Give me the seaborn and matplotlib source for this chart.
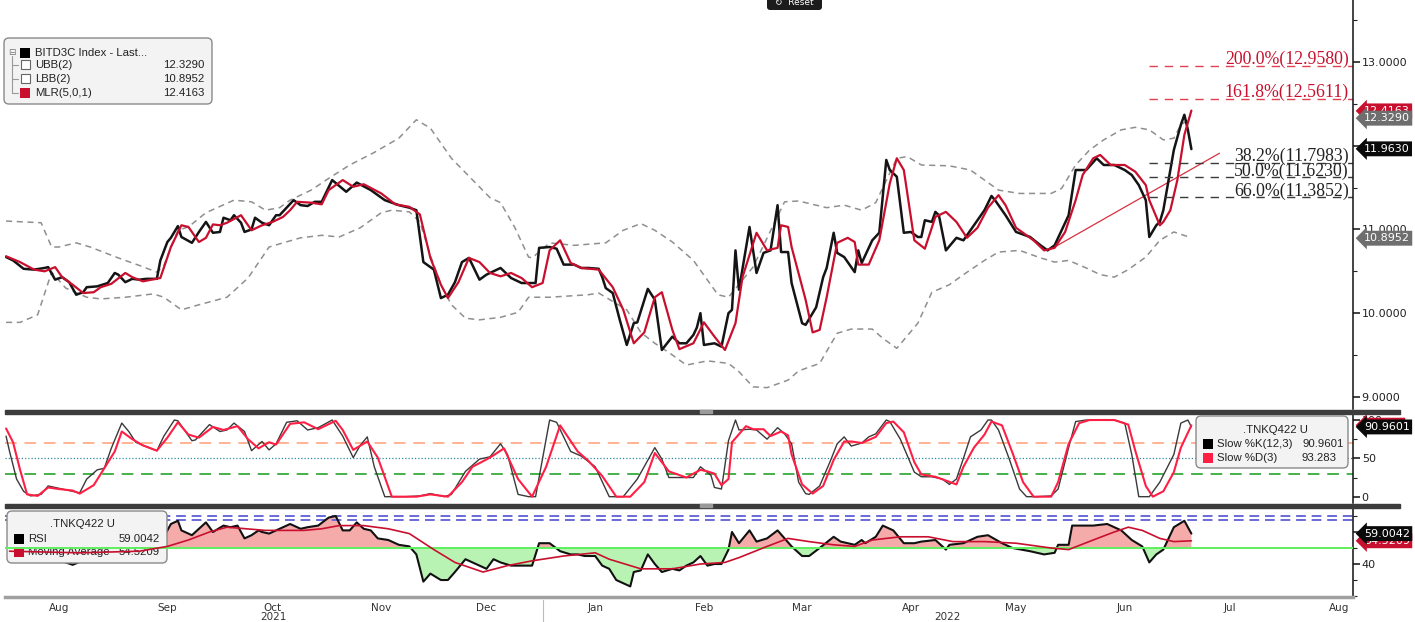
import matplotlib
matplotlib.use("Agg")
import numpy as np
import pandas as pd
import seaborn as sns
import matplotlib.dates as mdates
from matplotlib import pyplot as plt
from matplotlib.patches import FancyBboxPatch, Rectangle
from matplotlib.lines import Line2D
from matplotlib.ticker import FormatStrFormatter
from matplotlib.transforms import Affine2D

W, H = 1415, 622
START = pd.Timestamp("2021-08-01")   # day offsets below count from here

# ---- BITD3C Index (day offset, level) ----
price_day = [0, 2, 5, 8, 11, 12, 14, 16, 18, 20, 22, 23, 26, 29, 31, 32, 34, 36, 38, 40,
             43, 44, 46, 47, 49, 50, 53, 55, 57, 59, 61, 62, 64, 65, 67, 68, 70, 71, 73, 75,
             77, 78, 80, 82, 84, 86, 88, 90, 93, 97, 100, 104, 108, 112, 115, 117, 119, 122, 124, 126,
             128, 130, 132, 135, 137, 141, 144, 147, 151, 152, 155, 157, 159, 162, 164, 166, 169, 170, 171, 173,
             175, 177, 179, 180, 183, 185, 187, 190, 192, 194, 196, 197, 198, 199, 202, 204, 206, 207, 208, 209,
             212, 214, 216, 218, 220, 221, 223, 224, 227, 228, 231, 233, 234, 236, 237, 239, 242, 243, 244, 247,
             249, 251, 252, 254, 256, 258, 260, 261, 262, 264, 265, 266, 268, 271, 273, 276, 279, 281, 282, 285,
             288, 292, 295, 297, 299, 301, 303, 305, 308, 311, 313, 316, 319, 321, 323, 325, 326, 328, 329, 330,
             332, 333, 335, 336, 337, 338]
price = [10.67, 10.63, 10.53, 10.52, 10.54, 10.55, 10.40, 10.43, 10.37, 10.22, 10.25, 10.31, 10.32, 10.36, 10.48, 10.46, 10.37, 10.41, 10.40, 10.41,
         10.41, 10.63, 10.85, 10.90, 11.04, 10.91, 10.84, 10.97, 11.09, 10.96, 10.97, 11.14, 11.11, 11.17, 11.08, 10.97, 11.00, 11.14, 11.08, 11.05,
         11.17, 11.17, 11.26, 11.35, 11.29, 11.28, 11.33, 11.33, 11.59, 11.45, 11.56, 11.47, 11.35, 11.29, 11.26, 11.23, 10.61, 10.52, 10.18, 10.22,
         10.37, 10.61, 10.66, 10.40, 10.46, 10.54, 10.42, 10.36, 10.36, 10.78, 10.79, 10.77, 10.58, 10.58, 10.54, 10.54, 10.53, 10.43, 10.30, 10.24,
         9.92, 9.62, 9.88, 9.89, 10.29, 10.16, 9.56, 9.72, 9.64, 9.64, 9.74, 9.83, 10.00, 9.62, 9.64, 9.60, 10.00, 10.04, 10.75, 10.28,
         11.03, 10.48, 10.72, 10.75, 11.29, 10.73, 10.73, 10.36, 9.88, 9.86, 10.07, 10.43, 10.54, 10.96, 10.72, 10.67, 10.49, 10.75, 10.60, 10.87,
         10.96, 11.83, 11.71, 11.63, 10.96, 10.97, 10.91, 10.91, 11.11, 11.09, 11.21, 11.17, 10.75, 10.90, 10.87, 11.05, 11.23, 11.40, 11.35, 11.17,
         10.97, 10.91, 10.81, 10.75, 10.81, 10.99, 11.17, 11.71, 11.71, 11.85, 11.77, 11.77, 11.71, 11.65, 11.53, 11.35, 10.91, 11.05, 11.09, 11.23,
         11.71, 11.95, 12.25, 12.37, 12.19, 11.96]

mlr_day = [0, 4, 8, 11, 14, 16, 19, 22, 25, 27, 30, 34, 36, 39, 44, 47, 50, 52, 55, 57,
           59, 61, 63, 67, 70, 73, 76, 79, 81, 83, 87, 90, 92, 96, 99, 102, 107, 111, 115, 118,
           121, 124, 126, 129, 132, 135, 138, 141, 144, 147, 150, 153, 155, 158, 161, 164, 169, 173, 176, 179,
           182, 185, 187, 190, 192, 196, 199, 202, 205, 208, 210, 214, 217, 220, 221, 223, 224, 228, 230, 232,
           234, 237, 240, 242, 243, 246, 249, 252, 254, 256, 259, 262, 265, 268, 271, 274, 277, 280, 283, 285,
           288, 293, 296, 299, 302, 305, 307, 310, 312, 315, 319, 322, 325, 326, 329, 330, 332, 334, 336, 338]
mlr = [10.68, 10.61, 10.52, 10.50, 10.55, 10.43, 10.34, 10.24, 10.25, 10.31, 10.35, 10.48, 10.43, 10.38, 10.42, 10.79, 11.05, 11.03, 10.85, 10.90,
       11.06, 11.05, 11.08, 11.17, 10.99, 11.05, 11.09, 11.15, 11.23, 11.33, 11.32, 11.30, 11.47, 11.59, 11.51, 11.54, 11.43, 11.30, 11.27, 11.18,
       10.66, 10.34, 10.18, 10.37, 10.66, 10.61, 10.48, 10.44, 10.48, 10.42, 10.31, 10.36, 10.75, 10.87, 10.60, 10.54, 10.52, 10.31, 10.04, 9.64,
       9.77, 10.19, 10.25, 9.80, 9.57, 9.64, 9.89, 9.72, 9.56, 9.88, 10.43, 10.96, 10.75, 10.78, 11.05, 11.03, 10.79, 10.16, 9.77, 9.80,
       10.19, 10.84, 10.90, 10.85, 10.58, 10.58, 10.87, 11.55, 11.85, 11.71, 10.87, 10.77, 11.15, 11.21, 11.09, 10.90, 11.02, 11.26, 11.41, 11.29,
       11.02, 10.87, 10.75, 10.78, 10.97, 11.35, 11.65, 11.85, 11.89, 11.77, 11.77, 11.69, 11.53, 11.35, 11.05, 11.09, 11.23, 11.59, 12.13, 12.42]

ubb_day = [0, 10, 13, 15, 20, 24, 32, 38, 43, 45, 49, 52, 57, 65, 70, 74, 78, 81, 87, 92,
           98, 105, 112, 117, 121, 127, 134, 138, 141, 145, 149, 150, 155, 162, 171, 176, 181, 185, 190, 196,
           203, 206, 213, 222, 226, 234, 239, 244, 248, 254, 257, 261, 269, 275, 279, 283, 289, 298, 301, 305,
           309, 313, 318, 322, 326, 330, 333, 335, 338]
ubb = [11.10, 11.08, 10.79, 10.79, 10.84, 10.79, 10.66, 10.57, 10.49, 10.57, 10.99, 11.03, 11.20, 11.35, 11.33, 11.23, 11.26, 11.35, 11.47, 11.61,
       11.77, 11.92, 12.09, 12.31, 12.21, 11.85, 11.55, 11.38, 11.32, 11.03, 10.67, 10.66, 10.84, 10.81, 10.84, 10.99, 11.07, 10.99, 10.85, 10.63,
       10.22, 10.19, 10.55, 11.33, 11.34, 11.26, 11.29, 11.23, 11.32, 11.85, 11.87, 11.77, 11.76, 11.71, 11.59, 11.47, 11.43, 11.43, 11.49, 11.77,
       11.95, 12.07, 12.19, 12.22, 12.19, 12.07, 12.09, 12.25, 12.33]

lbb_day = [0, 4, 9, 13, 17, 23, 27, 34, 42, 45, 50, 55, 63, 69, 75, 79, 84, 90, 95, 101,
           107, 110, 115, 118, 121, 124, 127, 131, 135, 139, 141, 146, 149, 155, 166, 169, 177, 181, 185, 189,
           194, 200, 206, 209, 213, 217, 223, 226, 232, 237, 241, 247, 250, 254, 260, 264, 269, 273, 279, 283,
           289, 295, 299, 303, 308, 312, 316, 320, 325, 329, 333, 338]
lbb = [9.89, 9.89, 9.98, 10.49, 10.30, 10.19, 10.17, 10.19, 10.23, 10.19, 10.04, 10.10, 10.19, 10.42, 10.79, 10.84, 10.90, 10.93, 10.91, 11.02,
       11.20, 11.23, 11.21, 11.09, 10.69, 10.34, 10.10, 9.94, 9.92, 9.94, 9.95, 10.01, 10.19, 10.19, 10.22, 10.24, 10.04, 9.77, 9.64, 9.53,
       9.38, 9.43, 9.40, 9.30, 9.12, 9.11, 9.20, 9.31, 9.40, 9.76, 9.81, 9.81, 9.70, 9.58, 9.88, 10.25, 10.34, 10.46, 10.63, 10.73,
       10.75, 10.66, 10.61, 10.63, 10.54, 10.46, 10.43, 10.52, 10.67, 10.87, 10.97, 10.90]

trend_day = [299, 346]
trend = [10.79, 11.91]

fib_pct = ["38.2%", "50.0%", "66.0%", "161.8%", "200.0%"]
fib_lvl = [11.7983, 11.6230, 11.3852, 12.5611, 12.9580]
fib_red = [False, False, False, True, True]
fib_from = 326

# ---- .TNKQ422 U slow stochastic ----
k_day = [0, 1, 3, 5, 7, 10, 12, 15, 17, 21, 23, 26, 28, 30, 33, 35, 37, 39, 43, 45,
         48, 49, 53, 54, 58, 61, 63, 65, 68, 70, 73, 75, 77, 80, 83, 86, 89, 93, 96, 99,
         101, 103, 105, 108, 114, 118, 121, 122, 125, 127, 131, 135, 138, 141, 143, 146, 149, 151, 155, 157,
         161, 164, 168, 172, 176, 180, 185, 187, 189, 192, 196, 198, 201, 202, 204, 205, 206, 208, 209, 212,
         214, 217, 220, 222, 224, 226, 228, 229, 232, 235, 237, 239, 241, 244, 246, 248, 251, 252, 255, 259,
         261, 264, 267, 269, 271, 273, 275, 278, 280, 281, 283, 286, 289, 291, 294, 298, 300, 303, 305, 308,
         312, 316, 319, 321, 323, 326, 329, 333, 335, 337, 338]
slow_k = [79, 59, 23, 7, 1, 3, 14, 11, 9, 5, 23, 35, 37, 63, 96, 85, 71, 67, 60, 79,
          100, 99, 73, 74, 94, 85, 87, 96, 85, 60, 72, 61, 69, 97, 99, 87, 90, 100, 79, 51,
          67, 78, 39, 0, 0, 1, 4, 3, 0, 3, 33, 49, 52, 69, 55, 3, 0, 0, 100, 97,
          59, 53, 39, 0, 0, 23, 64, 49, 25, 25, 25, 39, 28, 12, 10, 41, 73, 100, 87, 88,
          87, 75, 90, 82, 69, 19, 4, 3, 14, 46, 69, 78, 66, 70, 78, 82, 100, 98, 75, 32,
          26, 26, 23, 16, 23, 50, 78, 87, 100, 100, 87, 50, 10, 0, 0, 1, 10, 64, 98, 100,
          100, 100, 96, 55, 0, 0, 19, 55, 96, 100, 91]

d_day = [0, 2, 4, 6, 9, 12, 15, 19, 21, 25, 28, 31, 33, 36, 39, 43, 46, 49, 52, 55,
         59, 62, 66, 69, 72, 75, 77, 81, 85, 89, 94, 96, 99, 103, 106, 110, 117, 121, 126, 130,
         133, 138, 142, 146, 150, 154, 158, 163, 166, 170, 174, 178, 182, 185, 189, 194, 198, 200, 202, 204,
         206, 207, 211, 213, 216, 218, 221, 223, 224, 227, 230, 233, 236, 239, 241, 244, 248, 251, 253, 256,
         259, 261, 265, 268, 271, 273, 276, 279, 281, 284, 287, 290, 293, 298, 300, 303, 306, 309, 316, 320,
         322, 325, 327, 330, 333, 335, 338]
slow_d = [89, 71, 35, 3, 1, 12, 10, 8, 4, 15, 37, 59, 85, 75, 67, 60, 77, 97, 81, 77,
          91, 87, 92, 75, 63, 71, 68, 95, 97, 88, 99, 87, 61, 72, 51, 0, 0, 3, 0, 19,
          39, 51, 63, 23, 0, 39, 93, 59, 47, 27, 0, 0, 19, 57, 33, 25, 35, 33, 30, 15,
          23, 71, 92, 88, 88, 79, 85, 80, 55, 16, 4, 14, 48, 72, 72, 70, 78, 96, 98, 84,
          45, 29, 26, 21, 16, 39, 64, 81, 98, 93, 57, 19, 0, 0, 19, 69, 96, 100, 100, 94,
          60, 14, 0, 7, 32, 64, 93]

# ---- .TNKQ422 U RSI and its moving average ----
rsi_day = [1, 7, 13, 19, 25, 32, 38, 44, 45, 47, 49, 50, 53, 57, 59, 62, 64, 66, 68, 70,
           72, 73, 75, 77, 81, 84, 86, 89, 92, 94, 96, 98, 100, 102, 104, 106, 109, 112, 115, 117,
           119, 121, 124, 126, 128, 131, 133, 135, 137, 139, 141, 144, 147, 150, 152, 155, 158, 161, 163, 165,
           168, 170, 172, 174, 178, 179, 181, 183, 185, 187, 190, 192, 194, 196, 198, 200, 202, 204, 206, 207,
           209, 212, 214, 217, 220, 222, 224, 227, 229, 232, 236, 238, 242, 244, 245, 248, 250, 253, 256, 259,
           261, 265, 268, 269, 273, 277, 280, 284, 287, 292, 296, 299, 300, 303, 304, 310, 314, 317, 318, 321,
           324, 326, 328, 330, 333, 336, 338]
rsi = [52, 47, 44, 39.5, 45, 50, 52, 56, 57, 65, 67, 61, 58, 66, 60, 64, 63, 64, 56, 58,
       61, 60, 59, 61, 65, 62, 63, 64, 69, 70, 61, 61, 66, 62, 61, 56, 55, 52, 51, 46,
       29, 34, 30, 30, 35, 43, 41, 39, 37, 43, 41, 39, 39, 39, 53, 53, 48, 46, 46, 45,
       45, 39, 37, 30, 26, 35, 36, 46, 40, 35, 37, 36, 39, 41, 45, 39, 40, 40, 49, 60,
       53, 61, 54, 56, 61, 56, 51, 45, 45, 50, 57, 54, 52, 55, 53, 57, 64, 61, 53, 53,
       54, 55, 49, 52, 53, 57, 58, 53, 50, 48, 46, 47, 52, 52, 64, 64, 65, 62, 61, 55,
       51, 41, 46, 49, 63, 67, 59]

rsi_ma_day = [1, 21, 38, 46, 52, 58, 63, 74, 85, 90, 95, 102, 109, 115, 122, 128, 136, 143, 150, 159,
              168, 172, 181, 190, 198, 205, 209, 217, 223, 229, 236, 242, 247, 255, 263, 270, 279, 288, 298, 303,
              310, 316, 320, 324, 329, 333, 338]
rsi_ma = [48, 47, 48, 51, 55, 60, 63, 61, 61, 62, 64, 64, 62, 59, 49, 41, 35, 39, 42, 45,
          47, 43, 37, 37, 40, 41, 44, 51, 56, 54, 52, 51, 55, 57, 57, 54, 54, 53, 50, 49,
          55, 60, 63, 61, 56, 54, 54.5]

# last values shown in the legends / right-hand tags
last_price, last_ubb, last_lbb, last_mlr = 11.9630, 12.3290, 10.8952, 12.4163
last_k, last_d = 90.9601, 93.283
last_rsi, last_ma = 59.0042, 54.5209


def dates(days):
    return START + pd.to_timedelta(np.asarray(days, dtype=float), unit="D")


sns.set_style("white")
plt.rcParams["font.family"] = ["DejaVu Sans"]
LEG_FONT = "Liberation Sans"

fig = plt.figure(figsize=(W / 100, H / 100), dpi=100)
px = Affine2D().scale(1, -1).translate(0, H)   # image pixels, y downwards

LEFT, RIGHT = 5, 1352.7


def panel(top, bottom):
    return [LEFT / W, 1 - bottom / H, (RIGHT - LEFT) / W, (bottom - top) / H]


ax1 = fig.add_axes(panel(0, 409))
ax2 = fig.add_axes(panel(413.5, 503.5), sharex=ax1)
ax3 = fig.add_axes(panel(507.5, 597), sharex=ax1)

xmin, xmax = dates([-0.3, 384])
jan1 = pd.Timestamp("2022-01-01")

# ---------- top panel ----------
band = dict(color="#8f8f8f", lw=1.1, linestyle=(0, (4, 3)), estimator=None, legend=False)
sns.lineplot(x=dates(ubb_day), y=ubb, ax=ax1, **band)
sns.lineplot(x=dates(lbb_day), y=lbb, ax=ax1, **band)
sns.lineplot(x=dates(trend_day), y=trend, ax=ax1, color="#d83040", lw=0.9, estimator=None, legend=False)
sns.lineplot(x=dates(price_day), y=price, ax=ax1, color="#141414", lw=1.8, estimator=None, legend=False)
sns.lineplot(x=dates(mlr_day), y=mlr, ax=ax1, color="#c8102e", lw=1.6, estimator=None, legend=False)

for pct, lvl, red in zip(fib_pct, fib_lvl, fib_red):
    col = "#c8102e" if red else "#222222"
    lcol = "#e04050" if red else "#3a3a3a"
    ax1.hlines(lvl, dates([fib_from])[0], xmax, colors=lcol, lw=1.0, linestyles=[(0, (6, 5))])
    ax1.annotate(f"{pct}({lvl:.4f})", xy=(1, lvl), xycoords=ax1.get_yaxis_transform(),
                 xytext=(-3, 1.2), textcoords="offset points", ha="right", va="baseline",
                 fontsize=12.8, color=col, family="Liberation Serif")

ax1.set_ylim(8.855, 13.741)
ax1.set_yticks([9, 10, 11, 12, 13])
ax1.set_yticks(np.arange(9.5, 13.6, 1.0), minor=True)
ax1.yaxis.set_major_formatter(FormatStrFormatter("%.4f"))

# ---------- stochastic panel ----------
ax2.axhline(70, color="#ffb394", lw=1.4, ls=(0, (6, 4)))
ax2.axhline(50, color="#2f8a9c", lw=0.9, ls=(0, (1, 1.6)))
ax2.axhline(30, color="#45b04a", lw=1.4, ls=(0, (6, 4)))
sns.lineplot(x=dates(k_day), y=slow_k, ax=ax2, color="#3a3a3a", lw=1.0, estimator=None, legend=False)
sns.lineplot(x=dates(d_day), y=slow_d, ax=ax2, color="#ff1f45", lw=1.5, estimator=None, legend=False)
ax2.set_ylim(-8.9, 108.5)
ax2.set_yticks([0, 50, 100])
ax2.set_yticks([25, 75], minor=True)

# ---------- RSI panel ----------
rsi_x = dates(rsi_day)
rsi_v = np.asarray(rsi, dtype=float)
ax3.fill_between(rsi_x, rsi_v, 50, where=rsi_v >= 50, interpolate=True, color="#f6abab", lw=0, zorder=1)
ax3.fill_between(rsi_x, rsi_v, 50, where=rsi_v <= 50, interpolate=True, color="#b9f3b3", lw=0, zorder=1)
ax3.axhline(70.2, color="#6a6ad8", lw=1.4, ls=(0, (5, 3)), zorder=2)
ax3.axhline(67.5, color="#6a6ad8", lw=1.4, ls=(0, (5, 3)), zorder=2)
sns.lineplot(x=rsi_x, y=rsi_v, ax=ax3, color="#111111", lw=1.5, estimator=None, legend=False, zorder=2.5)
ax3.axhline(50, color="#5ef05e", lw=1.4, zorder=4)
sns.lineplot(x=dates(rsi_ma_day), y=rsi_ma, ax=ax3, color="#c8102e", lw=1.2, estimator=None, legend=False, zorder=4)
ax3.set_ylim(19.4, 75.3)
ax3.set_yticks([40, 60])
ax3.set_yticks([20, 30, 50, 70], minor=True)

# ---------- shared styling ----------
ax1.set_xlim(xmin, xmax)
for ax in (ax1, ax2, ax3):
    ax.set_xlabel("")
    ax.set_ylabel("")
    ax.set_facecolor("white")
    ax.yaxis.tick_right()
    ax.tick_params(axis="y", which="major", length=5, width=1.2, direction="out", labelsize=8, pad=1.5, colors="#222222")
    ax.tick_params(axis="y", which="minor", length=3, width=0.8, direction="out", colors="#222222")
    for s in ("left", "top", "bottom"):
        ax.spines[s].set_visible(False)
    ax.spines["right"].set_color("#111111")
    ax.spines["right"].set_linewidth(1.1)
for ax in (ax2, ax3):
    ax.yaxis.set_major_formatter(FormatStrFormatter("%d"))
for ax in (ax1, ax2):
    ax.tick_params(axis="x", which="both", bottom=False, labelbottom=False)

ax3.spines["bottom"].set_visible(True)
ax3.spines["bottom"].set_color("#a0a0a0")
ax3.spines["bottom"].set_linewidth(2.5)
ax3.xaxis.set_major_locator(mdates.MonthLocator(bymonthday=16))
ax3.xaxis.set_major_formatter(mdates.DateFormatter("%b"))
ax3.xaxis.set_minor_locator(mdates.MonthLocator())
ax3.tick_params(axis="x", which="major", length=0, labelsize=7.5, pad=4, colors="#333333")
ax3.tick_params(axis="x", which="minor", length=3, width=0.8, direction="out", color="#777777")

xt = ax3.get_xaxis_transform()
ax3.text(xmin + (jan1 - xmin) / 2, -0.225, "2021", transform=xt, ha="center", va="center", fontsize=7.5, color="#333333")
ax3.text(jan1 + (xmax - jan1) / 2, -0.225, "2022", transform=xt, ha="center", va="center", fontsize=7.5, color="#333333")
ax3.add_line(Line2D([jan1, jan1], [-0.03, -0.3], transform=xt, color="#bbbbbb", lw=0.8, clip_on=False))


# ---------- right-hand value tags ----------
def tag(ax, y, text, fc):
    ax.annotate(text, xy=(1, y), xycoords=ax.get_yaxis_transform(), xytext=(8, 0),
                textcoords="offset points", ha="left", va="center", fontsize=8, color="white",
                bbox=dict(boxstyle="larrow,pad=0.22", fc=fc, ec="none"),
                annotation_clip=False, zorder=6)


tag(ax1, last_mlr, f"{last_mlr:.4f}", "#c8102e")
tag(ax1, last_ubb, f"{last_ubb:.4f}", "#6e6e6e")
tag(ax1, last_price, f"{last_price:.4f}", "#0a0a0a")
tag(ax1, last_lbb, f"{last_lbb:.4f}", "#6e6e6e")
tag(ax2, last_d, f"{last_d:.3f}", "#c8102e")
tag(ax2, last_k, f"{last_k:.4f}", "#0a0a0a")
tag(ax3, last_ma, f"{last_ma:.4f}", "#c8102e")
tag(ax3, last_rsi, f"{last_rsi:.4f}", "#0a0a0a")

# ---------- panel separators and the Reset button ----------
for top in (409.5, 503.5):
    fig.add_artist(Rectangle((LEFT, top), 1400 - LEFT, 4, transform=px, color="#3c3c3c", zorder=10))
    fig.add_artist(Rectangle((700, top + 0.8), 12, 2.4, transform=px, color="#9a9a9a", zorder=11))
fig.add_artist(FancyBboxPatch((767, -8), 55, 18, boxstyle="round,pad=0,rounding_size=3",
                              transform=px, fc="#1c1c1c", ec="none", zorder=10))
fig.text(794, 2.5, "↻  Reset", transform=px, ha="center", va="center", fontsize=6.5, color="white", zorder=11)


# ---------- legends ----------
def legend_box(target, x, y, w, h, z):
    target.add_artist(FancyBboxPatch((x, y), w, h, boxstyle="round,pad=0,rounding_size=5", transform=px,
                                     fc="#f3f3f3", ec="#8a8a8a", lw=1.0, zorder=z, clip_on=False))


def swatch(target, x, y, color, z):
    target.add_artist(Rectangle((x, y), 10, 10, transform=px, fc=color, ec="none", zorder=z, clip_on=False))


def ltext(target, x, y, s, ha="left", z=13, **kw):
    target.text(x, y, s, transform=px, ha=ha, va="center", fontsize=8.2, color="#222222",
                family=LEG_FONT, zorder=z, clip_on=False, **kw)


legend_box(fig, 4, 38, 208, 66, 12)
fig.text(12, 52.5, "⊟", transform=px, ha="center", va="center", fontsize=6.5, color="#777777", zorder=13)
for yy in (65, 79, 92.5):
    fig.add_artist(Line2D([12, 18], [yy, yy], transform=px, color="#999999", lw=0.8, zorder=13))
fig.add_artist(Line2D([12, 12], [56, 92.5], transform=px, color="#999999", lw=0.8, zorder=13))
swatch(fig, 20, 47.5, "#000000", 13)
for yy in (60, 74):
    fig.add_artist(Rectangle((21, yy), 9, 9, transform=px, fc="white", ec="#666666", lw=0.8, zorder=13))
swatch(fig, 20, 87.5, "#c8102e", 13)
top_rows = [("BITD3C Index - Last...", None, 52.5), ("UBB(2)", last_ubb, 65),
            ("LBB(2)", last_lbb, 79), ("MLR(5,0,1)", last_mlr, 92.5)]
for name, val, yy in top_rows:
    ltext(fig, 35, yy, name)
    if val is not None:
        ltext(fig, 204, yy, f"{val:.4f}", ha="right")

legend_box(fig, 1196, 416, 152, 52, 12)
ltext(fig, 1275, 430, ".TNKQ422 U", ha="center")
swatch(fig, 1203, 439, "#000000", 13)
swatch(fig, 1203, 453, "#ff1f45", 13)
ltext(fig, 1217, 444, "Slow %K(12,3)")
ltext(fig, 1344, 444, f"{last_k:.4f}", ha="right")
ltext(fig, 1217, 458, "Slow %D(3)")
ltext(fig, 1337, 458, f"{last_d:.3f}", ha="right")

legend_box(ax3, 7, 511, 160, 52, 3)
ltext(ax3, 82, 524, ".TNKQ422 U", ha="center", z=3.5)
swatch(ax3, 14, 534, "#000000", 3.5)
swatch(ax3, 14, 547, "#c8102e", 3.5)
ltext(ax3, 28, 539, "RSI", z=3.5)
ltext(ax3, 160, 539, f"{last_rsi:.4f}", ha="right", z=3.5)
ltext(ax3, 28, 552, "Moving Average", z=3.5)
ltext(ax3, 160, 552, f"{last_ma:.4f}", ha="right", z=3.5)

fig.savefig("out.png", dpi=100)
